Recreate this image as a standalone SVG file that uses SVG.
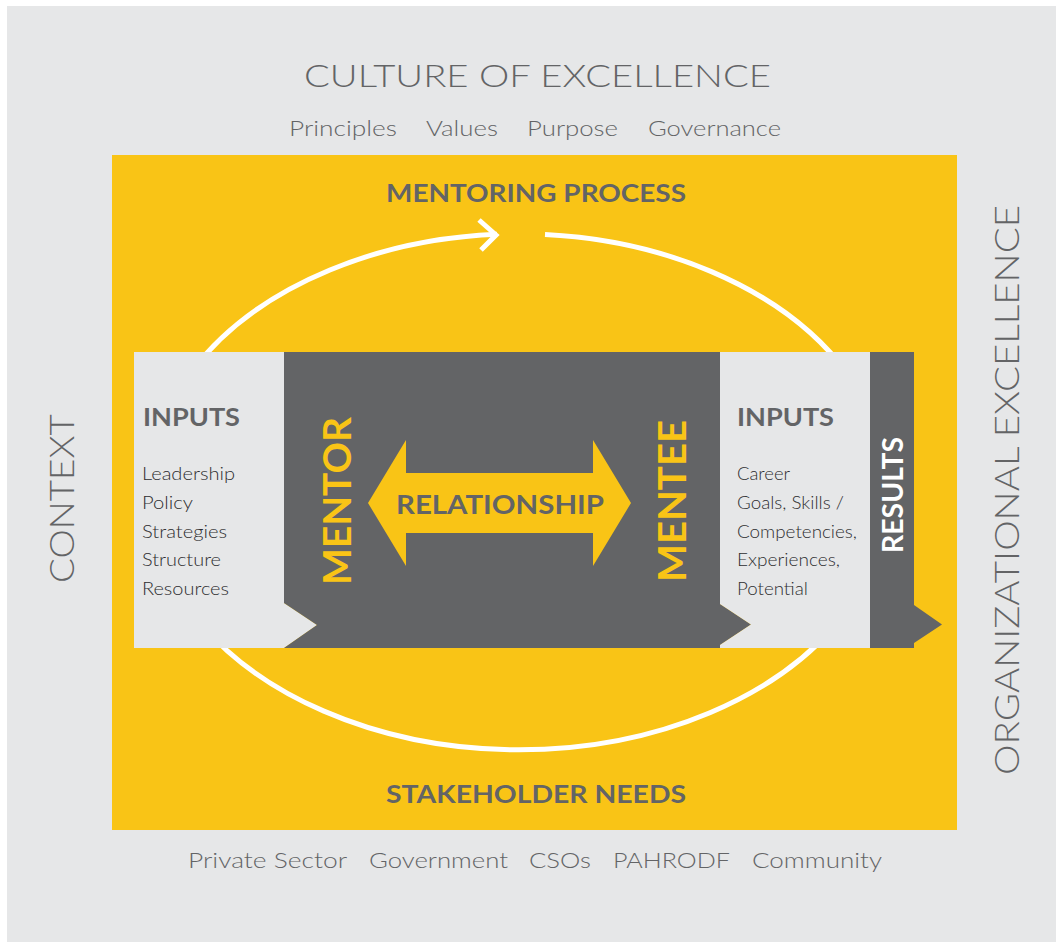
<svg xmlns="http://www.w3.org/2000/svg" width="1056" height="943" viewBox="0 0 1056 943">
<style>
.bg{fill:#E6E7E8}
.yel{fill:#F9C416}
.dark{fill:#636466}
.light{fill:#E6E7E8}
.thin{font-family:Lato,"Liberation Sans",sans-serif;font-weight:300;fill:#636466}
.bold{font-family:Lato,"Liberation Sans",sans-serif;font-weight:700}
.list{font-family:Lato,"Liberation Sans",sans-serif;font-weight:300;font-size:17px;fill:#2e2e30}
.loop{fill:none;stroke:#FFFFFF;stroke-width:5}
</style>
<rect x="0" y="0" width="1056" height="943" fill="#FFFFFF"/>
<rect class="bg" x="7" y="6" width="1049" height="936"/>

<g id="culture">
<text class="thin" x="304" y="87" font-size="32" textLength="467" lengthAdjust="spacingAndGlyphs">CULTURE OF EXCELLENCE</text>
<text class="thin" x="289" y="136" font-size="22" textLength="108" lengthAdjust="spacingAndGlyphs">Principles</text>
<text class="thin" x="426" y="136" font-size="22" textLength="72" lengthAdjust="spacingAndGlyphs">Values</text>
<text class="thin" x="527" y="136" font-size="22" textLength="91" lengthAdjust="spacingAndGlyphs">Purpose</text>
<text class="thin" x="648" y="136" font-size="22" textLength="133" lengthAdjust="spacingAndGlyphs">Governance</text>
</g>

<g id="context">
<text class="thin" transform="translate(74,498.5) rotate(-90)" text-anchor="middle" font-size="33" textLength="169" lengthAdjust="spacingAndGlyphs">CONTEXT</text>
</g>

<g id="org-excellence">
<text class="thin" transform="translate(1019,490) rotate(-90)" text-anchor="middle" font-size="33" textLength="570" lengthAdjust="spacingAndGlyphs">ORGANIZATIONAL EXCELLENCE</text>
</g>

<g id="stakeholders">
<text class="thin" x="188" y="868" font-size="22" textLength="159" lengthAdjust="spacingAndGlyphs">Private Sector</text>
<text class="thin" x="369" y="868" font-size="22" textLength="139" lengthAdjust="spacingAndGlyphs">Government</text>
<text class="thin" x="529" y="868" font-size="22" textLength="62" lengthAdjust="spacingAndGlyphs">CSOs</text>
<text class="thin" x="613" y="868" font-size="22" textLength="117" lengthAdjust="spacingAndGlyphs">PAHRODF</text>
<text class="thin" x="752" y="868" font-size="22" textLength="130" lengthAdjust="spacingAndGlyphs">Community</text>
</g>

<g id="mentoring-process">
<rect class="yel" x="112" y="155" width="845" height="675"/>
<text class="bold" x="386" y="202" font-size="25" fill="#636466" textLength="300" lengthAdjust="spacingAndGlyphs">MENTORING PROCESS</text>
<text class="bold" x="386" y="803" font-size="25" fill="#636466" textLength="300" lengthAdjust="spacingAndGlyphs">STAKEHOLDER NEEDS</text>
</g>

<g id="connectors">
<path class="loop" d="M545,234.5 A370,258 0 1 1 497,234.3"/>
<polyline class="loop" points="479,220 496,235 481,250"/>
</g>

<g id="mentor-inputs">
<polygon class="light" points="134,352 284,352 284,603 317,625 284,648 134,648"/>
<text class="bold" x="143" y="426" font-size="25" fill="#636466" textLength="97" lengthAdjust="spacingAndGlyphs">INPUTS</text>
<text class="list" x="142" y="480" textLength="93" lengthAdjust="spacingAndGlyphs">Leadership</text>
<text class="list" x="142" y="509" textLength="51" lengthAdjust="spacingAndGlyphs">Policy</text>
<text class="list" x="142" y="538" textLength="85" lengthAdjust="spacingAndGlyphs">Strategies</text>
<text class="list" x="142" y="566" textLength="79" lengthAdjust="spacingAndGlyphs">Structure</text>
<text class="list" x="142" y="595" textLength="87" lengthAdjust="spacingAndGlyphs">Resources</text>
</g>

<g id="relationship-core">
<path class="dark" d="M284,352 H720 V604 L751,624.5 L720,645 V648 H284 V648 L317,625 L284,603 Z"/>
<text class="bold" transform="translate(350.5,501) rotate(-90)" text-anchor="middle" font-size="39" fill="#F9C416" textLength="168" lengthAdjust="spacingAndGlyphs">MENTOR</text>
<text class="bold" transform="translate(686,501) rotate(-90)" text-anchor="middle" font-size="39" fill="#F9C416" textLength="162" lengthAdjust="spacingAndGlyphs">MENTEE</text>
</g>

<g id="relationship">
<polygon class="yel" points="368,503 406,440 406,473 593,473 593,440 631,503 593,566 593,533 406,533 406,566"/>
<text class="bold" x="396" y="514" font-size="26" fill="#636466" textLength="208" lengthAdjust="spacingAndGlyphs">RELATIONSHIP</text>
</g>

<g id="mentee-inputs">
<polygon class="light" points="720,352 870,352 870,648 720,648 720,645 751,624.5 720,604"/>
<text class="bold" x="737" y="426" font-size="25" fill="#636466" textLength="97" lengthAdjust="spacingAndGlyphs">INPUTS</text>
<text class="list" x="737" y="480" textLength="53" lengthAdjust="spacingAndGlyphs">Career</text>
<text class="list" x="737" y="509" textLength="107" lengthAdjust="spacingAndGlyphs">Goals, Skills /</text>
<text class="list" x="737" y="538" textLength="120" lengthAdjust="spacingAndGlyphs">Competencies,</text>
<text class="list" x="737" y="566" textLength="103" lengthAdjust="spacingAndGlyphs">Experiences,</text>
<text class="list" x="737" y="595" textLength="71" lengthAdjust="spacingAndGlyphs">Potential</text>
</g>

<g id="results">
<polygon class="dark" points="870,352 914,352 914,605 942,624.5 914,643 914,648 870,648"/>
<text class="bold" transform="translate(902.5,495) rotate(-90)" text-anchor="middle" font-size="29" fill="#FFFFFF" textLength="116" lengthAdjust="spacingAndGlyphs">RESULTS</text>
</g>
</svg>
